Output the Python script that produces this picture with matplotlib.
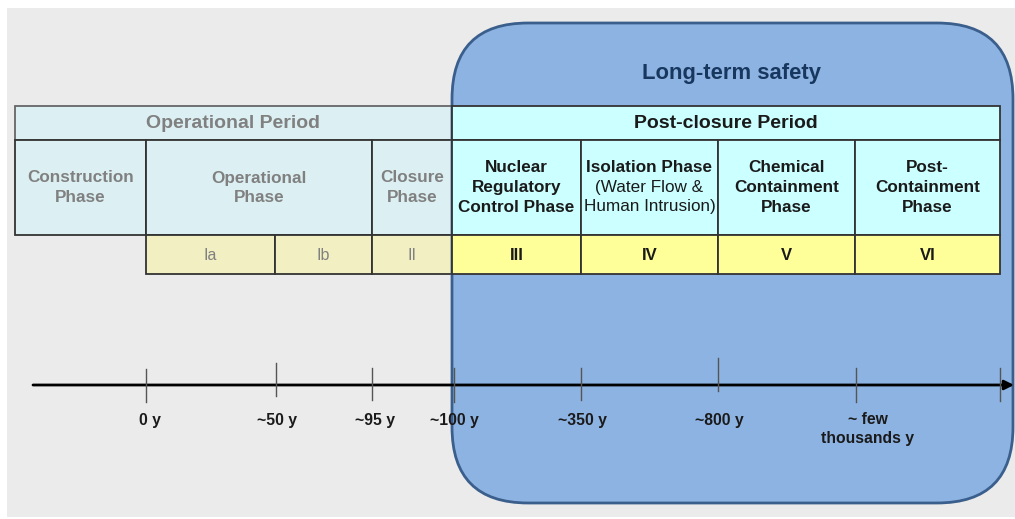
import matplotlib
matplotlib.use('Agg')
import matplotlib.pyplot as plt
from matplotlib.patches import Rectangle, FancyBboxPatch

plt.rcParams['font.family'] = ['Liberation Sans', 'DejaVu Sans']

# --- content -------------------------------------------------------------
period_labels = ['Operational Period', 'Post-closure Period']
left_phases = ['Construction\nPhase', 'Operational\nPhase', 'Closure\nPhase']
right_phases = ['Nuclear\nRegulatory\nControl Phase',
                'Isolation Phase\n(Water Flow &\nHuman Intrusion)',
                'Chemical\nContainment\nPhase',
                'Post-\nContainment\nPhase']
left_numerals = ['Ia', 'Ib', 'II']
right_numerals = ['III', 'IV', 'V', 'VI']
time_labels = ['0 y', '~50 y', '~95 y', '~100 y', '~350 y', '~800 y',
               '~ few\nthousands y', '']
box_title = 'Long-term safety'

# --- layout (pixel coordinates) -----------------------------------------
W, H = 1015, 519
x_left = [15, 146, 372, 452]            # construction / operational / closure
x_num_left = [146, 275, 372, 452]
x_right = [452, 581, 718, 855, 1000]
y_rows = [106, 140, 235, 274]
tick_x = [146, 276, 372, 454, 581, 718, 856, 1000]
tick_top = [369, 363, 368, 368, 368, 358, 368, 368]
tick_bot = [402, 396, 400, 402, 400, 391, 402, 401]
label_dx = [4, 1, 3, 0, 1, 1, 12, 0]
axis_y = 385

GRAY_TXT = '#808080'
DARK = '#1a1a1a'
EDGE = '#333333'
L_CYAN, R_CYAN = '#dcf0f3', '#ccffff'
L_YEL, R_YEL = '#f2f0c2', '#ffff99'

fig = plt.figure(figsize=(W / 100, H / 100), dpi=100)
fig.patch.set_facecolor('white')
ax = fig.add_axes([0, 0, 1, 1])
ax.set_xlim(0, W)
ax.set_ylim(H, 0)
ax.axis('off')

ax.add_patch(Rectangle((7, 8), W - 7, 509, facecolor='#ebebeb', edgecolor='none'))


def cell(x0, x1, y0, y1, fc, ec=EDGE, lw=1.3, z=2):
    ax.add_patch(Rectangle((x0, y0), x1 - x0, y1 - y0, facecolor=fc,
                           edgecolor=ec, linewidth=lw, zorder=z))


# left (operational) table
cell(x_left[0], x_left[-1], y_rows[0], y_rows[1], L_CYAN, ec='#666666')
ax.text((x_left[0] + x_left[-1]) / 2, (y_rows[0] + y_rows[1]) / 2, period_labels[0],
        ha='center', va='center', fontsize=14, fontweight='bold', color=GRAY_TXT, zorder=3)
for i, lab in enumerate(left_phases):
    cell(x_left[i], x_left[i + 1], y_rows[1], y_rows[2], L_CYAN)
    xc = (x_left[i] + x_left[i + 1]) / 2
    for j, line in enumerate(lab.split('\n')):
        ax.text(xc, 178 + 20 * j, line, ha='center', va='center',
                fontsize=12.3, fontweight='bold', color=GRAY_TXT, zorder=3)
for i, lab in enumerate(left_numerals):
    cell(x_num_left[i], x_num_left[i + 1], y_rows[2], y_rows[3], L_YEL)
    ax.text((x_num_left[i] + x_num_left[i + 1]) / 2, 255, lab, ha='center', va='center',
            fontsize=11.5, color=GRAY_TXT, zorder=3)

# long-term safety box
ax.add_patch(FancyBboxPatch((452, 23), 561, 480,
                            boxstyle='round,pad=0,rounding_size=76',
                            facecolor='#8db3e2', edgecolor='#3b5f8c', linewidth=2, zorder=4))
ax.text(732, 73, box_title, ha='center', va='center', fontsize=15.8,
        fontweight='bold', color='#17375e', zorder=5)

# right (post-closure) table
cell(x_right[0], x_right[-1], y_rows[0], y_rows[1], R_CYAN, z=6)
ax.text((x_right[0] + x_right[-1]) / 2, (y_rows[0] + y_rows[1]) / 2, period_labels[1],
        ha='center', va='center', fontsize=14, fontweight='bold', color=DARK, zorder=7)
for i, lab in enumerate(right_phases):
    cell(x_right[i], x_right[i + 1], y_rows[1], y_rows[2], R_CYAN, z=6)
    xc = (x_right[i] + x_right[i + 1]) / 2
    for j, line in enumerate(lab.split('\n')):
        bold = not (i == 1 and j > 0)
        ax.text(xc, 168 + 19.5 * j, line, ha='center', va='center', fontsize=12.3,
                fontweight='bold' if bold else 'normal', color=DARK, zorder=7)
for i, lab in enumerate(right_numerals):
    cell(x_right[i], x_right[i + 1], y_rows[2], y_rows[3], R_YEL, z=6)
    ax.text((x_right[i] + x_right[i + 1]) / 2, 255, lab, ha='center', va='center',
            fontsize=12, fontweight='bold', color=DARK, zorder=7)

# time axis
ax.annotate('', xy=(1014, axis_y), xytext=(33, axis_y),
            arrowprops=dict(arrowstyle='-|>', color='black', lw=2,
                            mutation_scale=14, shrinkA=0, shrinkB=0), zorder=8)
for x, t0, t1, lab, dx in zip(tick_x, tick_top, tick_bot, time_labels, label_dx):
    ax.plot([x, x], [t0, t1], color='#555555', lw=1, zorder=9)
    for j, line in enumerate(lab.split('\n') if lab else []):
        ax.text(x + dx, 420 + 19 * j, line, ha='center', va='center', fontsize=11.3,
                fontweight='bold', color=DARK, zorder=9)

fig.savefig('out.png', dpi=100, facecolor=fig.get_facecolor())
